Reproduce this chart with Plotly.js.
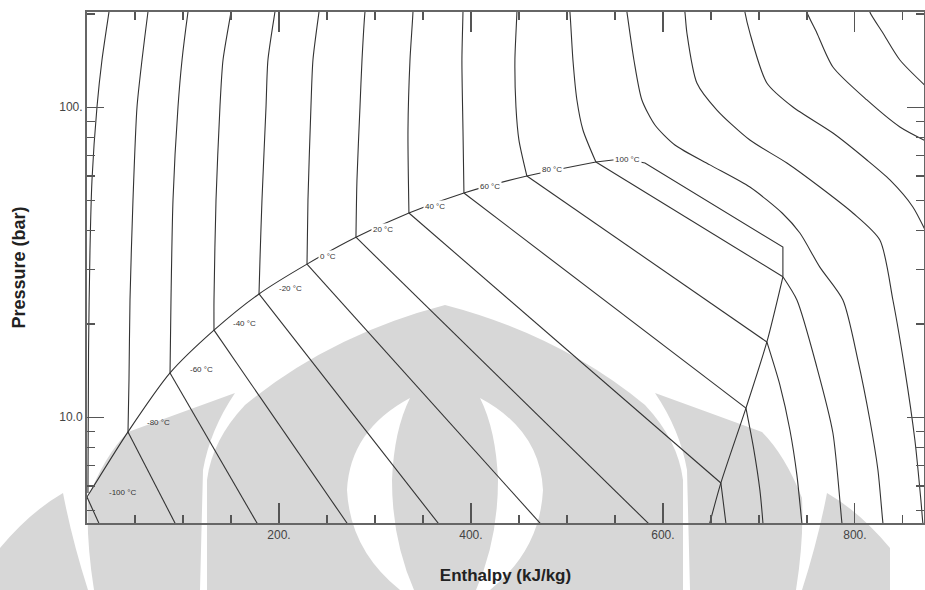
<!DOCTYPE html>
<html>
<head>
<meta charset="utf-8">
<script src="https://cdn.plot.ly/plotly-3.0.1.min.js"></script>
<style>html,body{margin:0;padding:0;background:#fff}#chart{width:925px;height:590px}</style>
</head>
<body>
<div id="chart"></div>
<script>
// ---------- DATA (enthalpy kJ/kg, pressure bar) ----------
const temps = [-100, -80, -60, -40, -20, 0, 20, 40, 60, 80, 100];

// saturated liquid line (one point per labelled temperature)
const satLiqH = [0, 42.7, 86.5, 132.3, 179.2, 229.2, 280.2, 335.4, 392.7, 458.3, 530.2];
const satLiqP = [5.53, 8.97, 13.9, 19.1, 25.0, 31.2, 38.1, 45.6, 52.9, 60.0, 66.6];

// cap of the two-phase region (from 100 °C point over to the dew line)
const capH = [530.2, 547.9, 565.6, 581.3, 725.0, 725.0];
const capP = [66.6, 67.6, 67.6, 66.1, 35.4, 28.4];

// saturated vapour (dew) line
const satVapH = [725.0, 708.3, 686.5, 660.4, 646.9];
const satVapP = [28.4, 17.5, 10.7, 6.14, 4.33];

// liquid-region isotherms (top of chart down to the liquid line)
const liqIsoH = [
  [23.96, 22.9, 15.6, 10.4, 5.2, 3.1, 1.6, 1.0],
  [64.6, 63.5, 57.3, 52.1, 47.9, 44.8, 43.75, 42.7],
  [106.25, 105.2, 99.0, 94.8, 89.6, 87.5, 86.5],
  [151.0, 150.0, 141.7, 138.5, 134.4, 132.3, 132.3],
  [196.9, 195.8, 188.5, 186.5, 182.3, 180.2, 179.2],
  [242.7, 241.7, 235.4, 233.3, 230.2, 229.2],
  [290.6, 289.6, 286.5, 284.4, 281.25, 280.2],
  [339.6, 339.6, 336.5, 334.4, 335.4],
  [391.7, 391.7, 390.6, 391.7, 392.7],
  [447.9, 447.9, 445.8, 446.9, 450.0, 458.3],
  [502.1, 503.1, 506.25, 510.4, 516.7, 530.2]
];
const liqIsoP = [
  [213.8, 203, 142.1, 100.2, 58.3, 34.6, 16.5, 5.70],
  [213.8, 203, 142.1, 100.2, 50.2, 23.9, 13.2, 8.97],
  [213.8, 203, 142.1, 100.2, 50.2, 23.9, 13.9],
  [213.8, 203, 142.1, 100.2, 50.2, 23.9, 19.1],
  [213.8, 203, 142.1, 100.2, 50.2, 32.2, 25.0],
  [213.8, 203, 142.1, 100.2, 50.2, 31.2],
  [213.8, 203, 142.1, 100.2, 58.3, 38.1],
  [213.8, 203, 142.1, 84.5, 45.6],
  [213.8, 203, 142.1, 84.5, 52.9],
  [213.8, 203, 142.1, 100.2, 78.4, 60.0],
  [213.8, 203, 142.1, 105.6, 84.5, 66.6]
];

// two-phase lines: from each liquid-line point to these end points
const twoPhaseEndH = [15.6, 95.4, 181.3, 275.8, 371.4, 478.4, 591.9, 660.4, 686.5, 708.3, 725.0];
const twoPhaseEndP = [4.33, 4.33, 4.33, 4.33, 4.33, 4.33, 4.33, 6.14, 10.7, 17.5, 28.4];

// vapour-region isotherms starting on the dew line (100, 80, 60, 40 °C)
const vapIsoH = [
  [725.0, 739.6, 760.4, 777.1, 786.5, 787.5],
  [708.3, 721.9, 732.3, 739.6, 744.8, 745.8],
  [686.5, 694.8, 701.0, 704.2, 704.7],
  [660.4, 665.6, 666.7]
];
const vapIsoP = [
  [28.4, 23.9, 14.5, 8.90, 4.56, 4.33],
  [17.5, 12.7, 9.10, 6.51, 4.56, 4.33],
  [10.7, 7.84, 5.83, 4.56, 4.33],
  [6.14, 4.56, 4.33]
];

// supercritical isotherms (S-curves on the right)
const superH = [
  [561.5, 562.5, 569.8, 578.1, 591.7, 612.5, 649.0, 690.6, 724.2, 742.7, 763.5, 787.5, 803.1, 815.6, 824.0, 829.2, 830.2],
  [621.9, 622.9, 625.0, 635.4, 656.25, 690.6, 729.2, 763.5, 797.9, 826.0, 839.6, 852.1, 862.5, 868.75, 870.8, 871.9],
  [684.4, 685.4, 690.6, 708.3, 735.4, 777.1, 812.5, 836.5, 860.4, 878.1],
  [749.0, 750.0, 760.4, 777.1, 812.5, 846.9, 878.1],
  [814.6, 815.6, 829.2, 846.9, 878.1]
];
const superP = [
  [213.8, 203, 142.1, 105.6, 87.7, 75.6, 65.2, 55.3, 45.6, 39.3, 30.5, 23.9, 15.3, 9.80, 6.76, 4.56, 4.33],
  [213.8, 203, 173.7, 119.8, 98.0, 78.4, 66.1, 55.3, 45.6, 37.3, 23.9, 14.2, 8.45, 5.41, 4.56, 4.33],
  [213.8, 203, 173.7, 119.8, 100.2, 82.6, 67.6, 58.3, 47.7, 37.3],
  [213.8, 203, 173.7, 134.9, 105.6, 86.4, 76.7],
  [213.8, 203, 173.7, 142.1, 113.7]
];

// temperature label positions
const labelH = [37.5, 74.0, 119.8, 164.6, 211.5, 251.0, 308.3, 362.5, 419.8, 484.4, 563.5];
const labelP = [5.70, 9.59, 14.3, 20.0, 26.1, 33.1, 40.2, 48.0, 55.7, 62.8, 68.1];

const xTickVals = [200, 400, 600, 800];
const xTickText = ['200.', '400.', '600.', '800.'];
const yTickVals = [10, 100];
const yTickText = ['10.0', '100.'];
const yMinorVals = [5, 6, 7, 8, 9, 20, 30, 40, 50, 60, 70, 80, 90, 200];

// ---------- TRACES ----------
const LC = '#333333', LW = 1.1;
const traces = [];
function add(h, p, spline) {
  traces.push({
    type: 'scatter', mode: 'lines', x: h, y: p, hoverinfo: 'skip',
    line: {color: LC, width: LW, shape: spline ? 'spline' : 'linear', smoothing: 0.7}
  });
}
add(satLiqH, satLiqP, true);
add(capH, capP, false);
add(satVapH, satVapP, true);
liqIsoH.forEach((h, i) => add(h, liqIsoP[i], true));
satLiqH.forEach((h, i) => add([h, twoPhaseEndH[i]], [satLiqP[i], twoPhaseEndP[i]], false));
vapIsoH.forEach((h, i) => add(h, vapIsoP[i], true));
superH.forEach((h, i) => add(h, superP[i], true));

const annotations = temps.map((t, i) => ({
  x: labelH[i], y: Math.log10(labelP[i]), xref: 'x', yref: 'y',
  text: t + ' °C', showarrow: false,
  font: {family: 'Liberation Sans, Arial, sans-serif', size: 8, color: '#333'},
  bgcolor: t >= 0 ? '#ffffff' : 'rgba(0,0,0,0)', borderpad: 1
}));

// ---------- background watermark (decoration) ----------
const wm = `<svg xmlns="http://www.w3.org/2000/svg" width="925" height="590" viewBox="0 0 925 590" preserveAspectRatio="none">
<g fill="#d7d7d7">
<path d="M0,548 Q30,512 63,493 Q72,540 88,590 L0,590 Z"/>
<path d="M88,498 Q105,455 128,432 L180,413 L235,393 Q210,430 203,470 L200,590 L94,590 Q86,540 88,498 Z"/>
<path d="M207,590 L207,480 Q212,440 245,405 Q330,335 445,305 Q560,335 645,405 Q678,440 683,480 L683,590 Z"/>
<path d="M802,498 Q785,455 762,432 L710,413 L655,393 Q680,430 687,470 L690,590 L796,590 Q804,540 802,498 Z"/>
<path d="M890,548 Q860,512 827,493 Q818,540 802,590 L890,590 Z"/>
</g>
<g fill="#ffffff">
<path d="M410,398 Q350,430 347,490 Q350,550 400,590 L414,590 Q392,540 392,480 Q394,430 410,398 Z"/>
<path d="M480,398 Q540,430 543,490 Q540,550 490,590 L476,590 Q498,540 498,480 Q496,430 480,398 Z"/>
</g>
</svg>`;
const wmSrc = 'data:image/svg+xml;charset=utf-8,' + encodeURIComponent(wm);

const L = 87, R = 1, T = 12, B = 67;
const PW = 925 - L - R, PH = 590 - T - B;

const axisFont = {family: 'Liberation Sans, Arial, sans-serif', size: 12, color: '#444'};
const layout = {
  width: 925, height: 590,
  margin: {l: L, r: R, t: T, b: B, pad: 0},
  paper_bgcolor: '#ffffff', plot_bgcolor: 'rgba(0,0,0,0)',
  showlegend: false, hovermode: false,
  xaxis: {
    range: [0, 872], showgrid: false, zeroline: false,
    showline: true, linecolor: '#666', linewidth: 2, mirror: 'allticks',
    tickmode: 'array', tickvals: xTickVals, ticktext: xTickText,
    ticks: 'inside', ticklen: 20, tickwidth: 1.2, tickcolor: '#555',
    tickfont: axisFont,
    minor: {dtick: 50, tick0: 0, ticks: 'inside', ticklen: 8, tickwidth: 1.2, tickcolor: '#555', showgrid: false},
    title: {text: '<b>Enthalpy (kJ/kg)</b>', standoff: 28,
      font: {family: 'Liberation Sans, Arial, sans-serif', size: 17, color: '#222'}}
  },
  yaxis: {
    type: 'log', range: [0.659, 2.3074], showgrid: false, zeroline: false,
    showline: true, linecolor: '#666', linewidth: 2, mirror: 'allticks',
    tickmode: 'array', tickvals: yTickVals, ticktext: yTickText,
    ticks: 'inside', ticklen: 17, tickwidth: 1.2, tickcolor: '#555',
    tickfont: axisFont,
    minor: {tickmode: 'array', tickvals: yMinorVals, ticks: 'inside', ticklen: 8, tickwidth: 1.2, tickcolor: '#555', showgrid: false},
    title: {text: '<b>Pressure (bar)</b>', standoff: 29,
      font: {family: 'Liberation Sans, Arial, sans-serif', size: 18, color: '#222'}}
  },
  annotations: annotations,
  images: [{
    source: wmSrc, xref: 'paper', yref: 'paper',
    x: -L / PW, y: 1 + T / PH, sizex: 925 / PW, sizey: 590 / PH,
    xanchor: 'left', yanchor: 'top', sizing: 'stretch', layer: 'below'
  }]
};

Plotly.newPlot('chart', traces, layout, {staticPlot: true, displayModeBar: false});
</script>
</body>
</html>
